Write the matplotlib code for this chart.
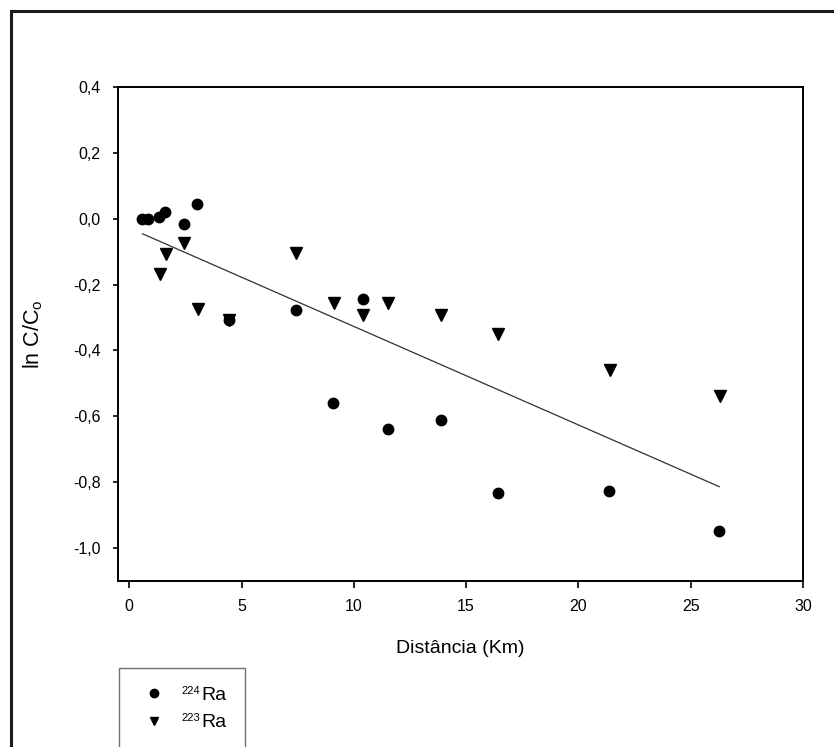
import matplotlib
matplotlib.use("Agg")
import matplotlib.pyplot as plt
from matplotlib.lines import Line2D
from matplotlib.transforms import IdentityTransform
from matplotlib.ticker import FuncFormatter

plt.rcParams["font.family"] = ["Liberation Sans", "DejaVu Sans"]
plt.rcParams["mathtext.fontset"] = "custom"
plt.rcParams["mathtext.rm"] = "Liberation Sans"
plt.rcParams["mathtext.it"] = "Liberation Sans"

# ---------------------------------------------------------------------------
# Data
# ---------------------------------------------------------------------------
dist_224 = [0.59, 0.82, 1.34, 1.59, 2.44, 3.03, 4.43, 7.43, 9.07, 10.40,
            11.50, 13.86, 16.44, 21.36, 26.27]
ln_224 = [0.000, 0.000, 0.004, 0.021, -0.016, 0.046, -0.307, -0.277, -0.559,
          -0.244, -0.637, -0.610, -0.834, -0.828, -0.947]

dist_223 = [1.35, 1.62, 2.44, 3.06, 4.43, 7.43, 9.10, 10.43, 11.50, 13.86,
            16.44, 21.39, 26.30]
ln_223 = [-0.169, -0.108, -0.074, -0.275, -0.307, -0.105, -0.257, -0.292,
          -0.257, -0.292, -0.349, -0.460, -0.539]

# linear fit drawn over the measured distance range
fit_intercept = -0.028
fit_slope = -0.0299
fit_x = [min(dist_224), max(dist_224)]
fit_y = [fit_intercept + fit_slope * x for x in fit_x]

x_ticks = [0, 5, 10, 15, 20, 25, 30]
y_ticks = [-1.0, -0.8, -0.6, -0.4, -0.2, 0.0, 0.2, 0.4]
isotopes = ["224", "223"]


def comma_fmt(v, _pos):
    return f"{v:.1f}".replace(".", ",").replace("-0,0", "0,0")


fig = plt.figure(figsize=(8.34, 7.47), dpi=100)
ax = fig.add_axes([0.1415, 0.2222, 0.9628 - 0.1415, 0.8835 - 0.2222])

ax.plot(fit_x, fit_y, color="#303030", lw=0.9, zorder=1)
ax.plot(dist_224, ln_224, "o", color="black", ms=7.5, ls="none",
        label="Ra", zorder=3)
ax.plot(dist_223, ln_223, "v", color="black", ms=8, ls="none",
        label="Ra", zorder=2)

ax.set_xlim(-0.5, 30)
ax.set_ylim(-1.1, 0.4)
ax.set_xticks(x_ticks)
ax.set_yticks(y_ticks)
ax.yaxis.set_major_formatter(FuncFormatter(comma_fmt))

ax.tick_params(direction="out", width=1.2, labelsize=11.5, colors="black")
ax.tick_params(axis="x", length=5, pad=8)
ax.tick_params(axis="y", length=3.6, pad=9)
for sp in ax.spines.values():
    sp.set_linewidth(1.4)

ax.set_xlabel("Distância (Km)", fontsize=14, labelpad=19)
ax.set_ylabel(r"ln C/C$_{\rm o}$", fontsize=15.5, labelpad=20)

leg = fig.legend(loc="upper left", bbox_to_anchor=(119 / 834, 1 - 668 / 747),
                 frameon=True, fancybox=False, edgecolor="#707070",
                 fontsize=14, handlelength=1.71, handletextpad=1.57,
                 borderpad=0.95, labelspacing=0.5, borderaxespad=0)
leg.get_frame().set_linewidth(1.0)
leg.get_frame().set_alpha(1.0)
for h in leg.legend_handles:
    h.set_markersize(6)

# mass numbers as small superscripts in front of "Ra"
fig.canvas.draw()
for txt, iso in zip(leg.get_texts(), isotopes):
    bb = txt.get_window_extent()
    fig.text(bb.x0 - 1, bb.y1 + 1, iso, fontsize=8, ha="right", va="top",
             color="black", zorder=10, transform=IdentityTransform())

# outer frame (top and left edges only are visible)
fig.add_artist(Line2D([11 / 834, 11 / 834], [0, 1 - 11 / 747],
                      transform=fig.transFigure, color="#1a1a1a", lw=2.2))
fig.add_artist(Line2D([11 / 834, 1], [1 - 11 / 747, 1 - 11 / 747],
                      transform=fig.transFigure, color="#1a1a1a", lw=2.2))

fig.savefig("out.png", dpi=100)
